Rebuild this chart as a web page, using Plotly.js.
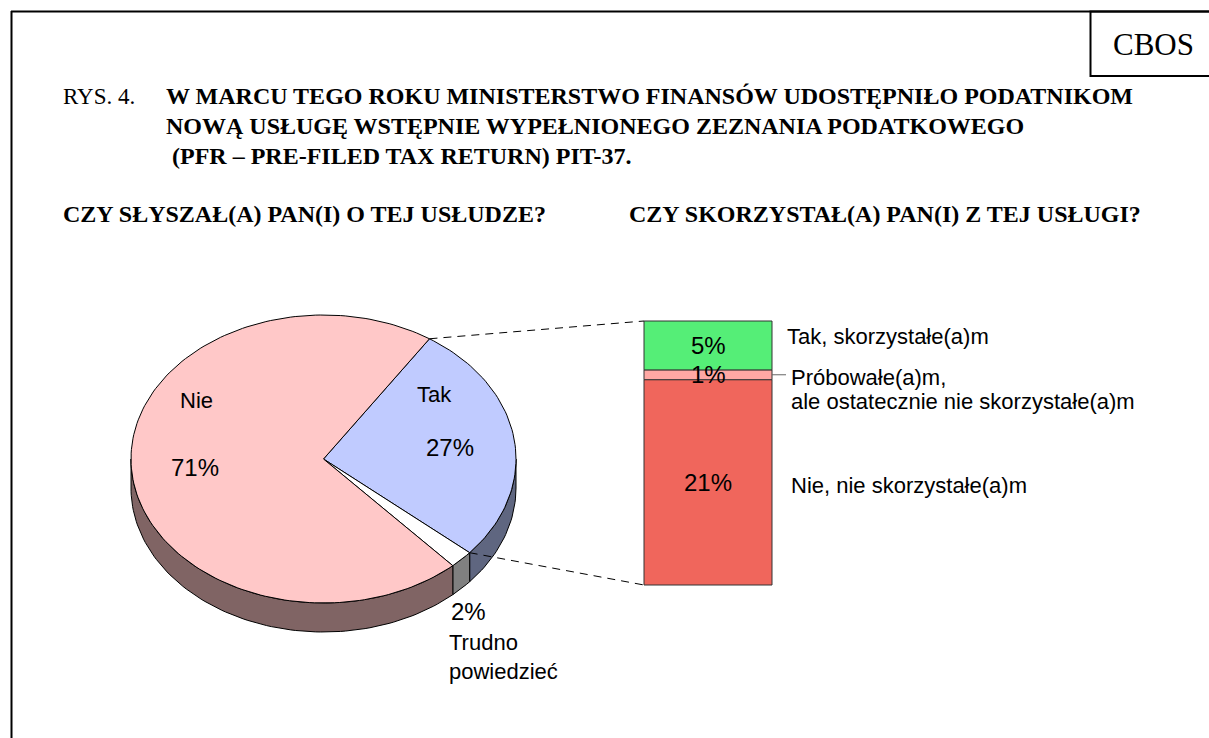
<!DOCTYPE html>
<html>
<head>
<meta charset="utf-8">
<script src="https://cdn.plot.ly/plotly-3.0.1.min.js"></script>
<style>
html,body{margin:0;padding:0;background:#fff;}
#chart{width:1209px;height:738px;}
</style>
</head>
<body>
<div id="chart"></div>
<script>
// ---------------- DATA ----------------
const pieCategories = ['Tak', 'Trudno powiedzieć', 'Nie'];
const pieValues = [27, 2, 71];
const pieTopColors = ['#C0CBFF', '#FFFFFF', '#FFC8C8'];
const pieSideColors = ['#5F6680', '#808080', '#806464'];

const barCategories = ['Nie, nie skorzystałe(a)m', 'Próbowałe(a)m, ale ostatecznie nie skorzystałe(a)m', 'Tak, skorzystałe(a)m'];
const barLabelLines = [['Nie, nie skorzystałe(a)m'], ['Próbowałe(a)m,', 'ale ostatecznie nie skorzystałe(a)m'], ['Tak, skorzystałe(a)m']];
const barValues = [21, 1, 5];
const barColors = ['#F0665C', '#FFA8A4', '#55EE77'];

const titleLabel = 'RYS. 4.';
const titleLines = ['W MARCU TEGO ROKU MINISTERSTWO FINANSÓW UDOSTĘPNIŁO PODATNIKOM',
                    'NOWĄ USŁUGĘ WSTĘPNIE WYPEŁNIONEGO ZEZNANIA PODATKOWEGO',
                    '(PFR – PRE-FILED TAX RETURN) PIT-37.'];
const leftQuestion = 'CZY SŁYSZAŁ(A) PAN(I) O TEJ USŁUDZE?';
const rightQuestion = 'CZY SKORZYSTAŁ(A) PAN(I) Z TEJ USŁUGI?';
const sourceLabel = 'CBOS';

// ---------------- LAYOUT CONSTANTS ----------------
const W = 1209, H = 738;
const PIE = {cx: 323.5, cy: 459, rx: 192.5, ry: 144, depth: 29, start: 56.6};
const BAR = {x0: 644, x1: 772, bottom: 585, unitPx: 264 / 27};
const SANS = 'Liberation Sans, Arial, sans-serif';
const SERIF = 'Liberation Serif, Times New Roman, serif';

const rad = d => d * Math.PI / 180;
const px = (t, dy) => PIE.cx + PIE.rx * Math.cos(rad(t));
const py = (t, dy) => PIE.cy - PIE.ry * Math.sin(rad(t)) + (dy || 0);

function arc(a, b, dy) { // from angle a to b
  const n = Math.max(2, Math.ceil(Math.abs(b - a) / 1.5));
  const xs = [], ys = [];
  for (let i = 0; i <= n; i++) {
    const t = a + (b - a) * i / n;
    xs.push(px(t)); ys.push(py(t, dy));
  }
  return [xs, ys];
}

const traces = [];
const total = pieValues.reduce((s, v) => s + v, 0);
const sliceAngles = [];
let ang = PIE.start;
pieValues.forEach((v, i) => {
  const a1 = ang, a2 = ang - v / total * 360;
  sliceAngles.push([a2, a1]);
  ang = a2;
});

// side faces (front half only)
sliceAngles.forEach(([a2, a1], i) => {
  [-360, 0, 360].forEach(s => {
    const lo = Math.max(a2, -180 + s), hi = Math.min(a1, s);
    if (hi > lo) {
      const [tx, ty] = arc(lo, hi, 0);
      const [bx, by] = arc(hi, lo, PIE.depth);
      traces.push({
        type: 'scatter', mode: 'lines', x: tx.concat(bx, [tx[0]]), y: ty.concat(by, [ty[0]]),
        fill: 'toself', fillcolor: pieSideColors[i], line: {color: '#000', width: 1},
        hoverinfo: 'skip', showlegend: false
      });
    }
  });
});

// top faces
sliceAngles.forEach(([a2, a1], i) => {
  const [tx, ty] = arc(a1, a2, 0);
  traces.push({
    type: 'scatter', mode: 'lines',
    x: [PIE.cx].concat(tx, [PIE.cx]), y: [PIE.cy].concat(ty, [PIE.cy]),
    fill: 'toself', fillcolor: pieTopColors[i], line: {color: '#000', width: 1},
    hoverinfo: 'skip', showlegend: false
  });
});

// stacked bar (bottom to top)
let cum = 0;
const barAnn = [];
barValues.forEach((v, i) => {
  const base = BAR.bottom - cum * BAR.unitPx;
  traces.push({
    type: 'bar', x: [(BAR.x0 + BAR.x1) / 2], width: [BAR.x1 - BAR.x0],
    base: [base], y: [-v * BAR.unitPx],
    marker: {color: barColors[i], line: {color: '#333', width: 1}},
    hoverinfo: 'skip', showlegend: false, name: barCategories[i]
  });
  barAnn.push({x: (BAR.x0 + BAR.x1) / 2, y: base - v * BAR.unitPx / 2, text: v + '%'});
  cum += v;
});

// connector dashed lines
const tak = sliceAngles[0];
traces.push({type: 'scatter', mode: 'lines', x: [px(tak[1]), BAR.x0], y: [py(tak[1]), BAR.bottom - cum * BAR.unitPx],
  line: {color: '#000', width: 1, dash: '8px,6px'}, hoverinfo: 'skip', showlegend: false});
traces.push({type: 'scatter', mode: 'lines', x: [px(tak[0]), BAR.x0], y: [py(tak[0]), BAR.bottom],
  line: {color: '#000', width: 1, dash: '8px,6px'}, hoverinfo: 'skip', showlegend: false});

// leader for the 1% segment
const midSmall = BAR.bottom - (barValues[0] + barValues[1] / 2) * BAR.unitPx;
traces.push({type: 'scatter', mode: 'lines', x: [BAR.x1, BAR.x1 + 14], y: [midSmall, midSmall],
  line: {color: '#666', width: 1}, hoverinfo: 'skip', showlegend: false});

// ---------------- ANNOTATIONS ----------------
const ann = [];
function txt(x, y, text, size, opts) {
  ann.push(Object.assign({x: x, y: y, xref: 'x', yref: 'y', text: text, showarrow: false,
    xanchor: 'center', yanchor: 'middle', font: {family: SANS, size: size, color: '#000'}}, opts || {}));
}
// header
txt(61, 96, titleLabel, 23, {xanchor: 'left', font: {family: SERIF, size: 23, color: '#000'}});
const titleY = [96, 126, 156], titleX = [164, 164, 170];
titleLines.forEach((t, i) => txt(titleX[i], titleY[i], '<b>' + t + '</b>', 24, {xanchor: 'left', font: {family: SERIF, size: 24, color: '#000'}}));
txt(61, 214, '<b>' + leftQuestion + '</b>', 24, {xanchor: 'left', font: {family: SERIF, size: 24, color: '#000'}});
txt(627, 214, '<b>' + rightQuestion + '</b>', 24, {xanchor: 'left', font: {family: SERIF, size: 24, color: '#000'}});
txt(1153, 44, sourceLabel, 31, {font: {family: SERIF, size: 31, color: '#000'}});

// pie labels
const pieLabelPos = [
  {lx: 434, ly: 394, vx: 449.5, vy: 447},
  {lx: 447, ly: 656.5, vx: 468, vy: 611},
  {lx: 196, ly: 400, vx: 195, vy: 467}
];
pieCategories.forEach((c, i) => {
  const p = pieLabelPos[i];
  if (i === 1) {
    txt(p.lx, p.ly, c.replace(' ', '<br>'), 22, {xanchor: 'left', align: 'left'});
  } else {
    txt(p.lx, p.ly, c, 22);
  }
  txt(p.vx, p.vy, pieValues[i] + '%', 24);
});

// bar value labels
barAnn.forEach(a => txt(a.x, a.y, a.text, 24));

// bar category labels
const barLabelY = [[485], [377, 401.7], [336.7]];
const barLabelX = [789, 789, 785];
barLabelLines.forEach((lines, i) => lines.forEach((l, j) => txt(barLabelX[i], barLabelY[i][j], l, 22, {xanchor: 'left'})));

// ---------------- FRAME ----------------
const shapes = [
  {type: 'line', xref: 'x', yref: 'y', x0: 11, x1: W + 5, y0: 11.5, y1: 11.5, line: {color: '#000', width: 2}},
  {type: 'line', xref: 'x', yref: 'y', x0: 11.5, x1: 11.5, y0: 11, y1: H + 5, line: {color: '#000', width: 2}},
  {type: 'rect', xref: 'x', yref: 'y', x0: 1090.5, x1: W + 5, y0: 11.5, y1: 76, line: {color: '#000', width: 2}}
];

const layout = {
  width: W, height: H, margin: {l: 0, r: 0, t: 0, b: 0},
  paper_bgcolor: '#fff', plot_bgcolor: '#fff', showlegend: false,
  xaxis: {range: [0, W], visible: false, fixedrange: true},
  yaxis: {range: [H, 0], visible: false, fixedrange: true},
  barmode: 'overlay', bargap: 0,
  annotations: ann, shapes: shapes
};

Plotly.newPlot('chart', traces, layout, {staticPlot: true, displayModeBar: false});
</script>
</body>
</html>
